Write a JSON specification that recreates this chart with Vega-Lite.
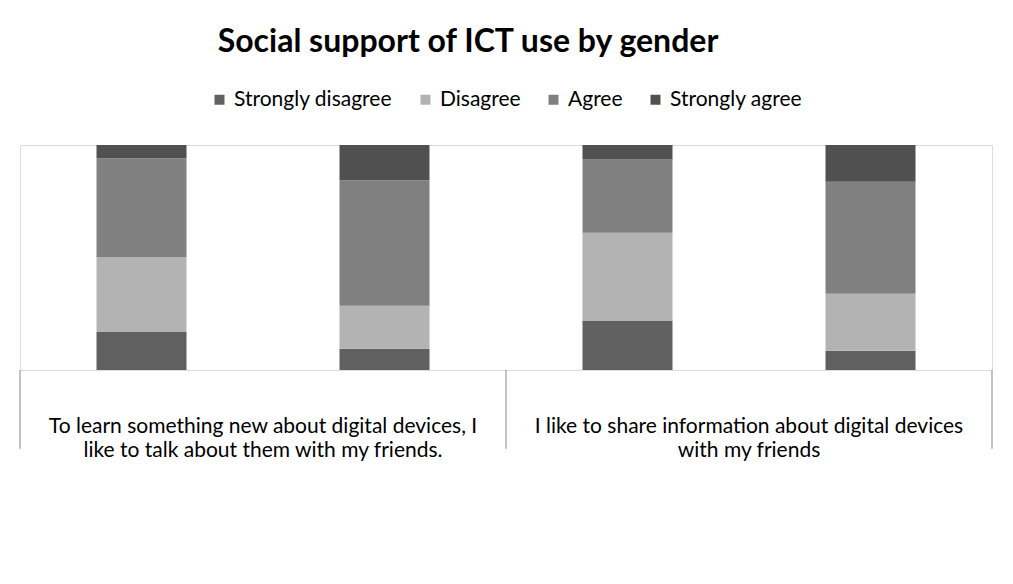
{
  "$schema": "https://vega.github.io/schema/vega-lite/v6.json",
  "width": 1013,
  "height": 584,
  "autosize": {"type": "fit", "contains": "padding"},
  "padding": {"left": 19, "top": 26, "right": 20, "bottom": 9},
  "title": {
    "text": "Social support of ICT use by gender",
    "fontSize": 32,
    "fontWeight": "bold",
    "font": "Lato",
    "color": "#000000",
    "dx": -38,
    "offset": 30
  },
  "datasets": {
    "main": [
      {"key": "Q1 Female", "response": "Strongly disagree", "rank": 1, "value": 0.169},
      {"key": "Q1 Female", "response": "Disagree", "rank": 2, "value": 0.333},
      {"key": "Q1 Female", "response": "Agree", "rank": 3, "value": 0.439},
      {"key": "Q1 Female", "response": "Strongly agree", "rank": 4, "value": 0.059},
      {"key": "Q1 Male", "response": "Strongly disagree", "rank": 1, "value": 0.095},
      {"key": "Q1 Male", "response": "Disagree", "rank": 2, "value": 0.191},
      {"key": "Q1 Male", "response": "Agree", "rank": 3, "value": 0.557},
      {"key": "Q1 Male", "response": "Strongly agree", "rank": 4, "value": 0.157},
      {"key": "Q2 Female", "response": "Strongly disagree", "rank": 1, "value": 0.220},
      {"key": "Q2 Female", "response": "Disagree", "rank": 2, "value": 0.390},
      {"key": "Q2 Female", "response": "Agree", "rank": 3, "value": 0.326},
      {"key": "Q2 Female", "response": "Strongly agree", "rank": 4, "value": 0.064},
      {"key": "Q2 Male", "response": "Strongly disagree", "rank": 1, "value": 0.086},
      {"key": "Q2 Male", "response": "Disagree", "rank": 2, "value": 0.253},
      {"key": "Q2 Male", "response": "Agree", "rank": 3, "value": 0.498},
      {"key": "Q2 Male", "response": "Strongly agree", "rank": 4, "value": 0.163}
    ],
    "groups": [
      {"key": "Q1 Female", "label": "To learn something new about digital devices, I|like to talk about them with my friends."},
      {"key": "Q2 Female", "label": "I like to share information about digital devices|with my friends"}
    ],
    "ends": [
      {"key": "Q2 Male"}
    ]
  },
  "layer": [
    {
      "data": {"name": "main"},
      "mark": {"type": "bar", "size": 90},
      "encoding": {
        "x": {
          "field": "key",
          "type": "nominal",
          "scale": {"domain": ["Q1 Female", "Q1 Male", "Q2 Female", "Q2 Male"], "paddingInner": 0, "paddingOuter": 0},
          "axis": {
            "title": null,
            "labelAngle": 0,
            "labelExpr": "indexof(datum.value, 'Female') >= 0 ? 'Female' : 'Male'",
            "tickBand": "extent",
            "tickSize": 42,
            "labelPadding": -25,
            "labelFontSize": 21,
            "labelFont": "Lato",
            "labelColor": "#000000",
            "domainColor": "#868686",
            "tickColor": "#868686"
          }
        },
        "y": {
          "field": "value",
          "type": "quantitative",
          "scale": {"domain": [0, 1]},
          "axis": {
            "title": null,
            "format": ".0%",
            "values": [0, 0.1, 0.2, 0.3, 0.4, 0.5, 0.6, 0.7, 0.8, 0.9, 1],
            "labelFontSize": 21,
            "labelFont": "Lato",
            "labelColor": "#000000",
            "labelPadding": 13,
            "tickSize": 5,
            "tickColor": "#868686",
            "domainColor": "#868686",
            "gridColor": "#868686"
          }
        },
        "color": {
          "field": "response",
          "type": "nominal",
          "scale": {
            "domain": ["Strongly disagree", "Disagree", "Agree", "Strongly agree"],
            "range": ["#606060", "#b3b3b3", "#808080", "#505050"]
          },
          "legend": {
            "title": null,
            "orient": "top",
            "offset": 35,
            "symbolType": "square",
            "symbolSize": 100,
            "labelFontSize": 21,
            "labelFont": "Lato",
            "labelColor": "#000000",
            "columnPadding": 22
          }
        },
        "order": {"field": "rank", "type": "quantitative"}
      }
    },
    {
      "data": {"name": "groups"},
      "mark": {"type": "rule", "color": "#868686"},
      "encoding": {
        "x": {"field": "key", "type": "nominal", "bandPosition": 0, "axis": null},
        "y": {"datum": 0, "type": "quantitative", "scale": {"domain": [0, 1]}, "axis": null},
        "y2": {"datum": -0.35}
      }
    },
    {
      "data": {"name": "ends"},
      "mark": {"type": "rule", "color": "#868686"},
      "encoding": {
        "x": {"field": "key", "type": "nominal", "bandPosition": 1, "axis": null},
        "y": {"datum": 0, "type": "quantitative", "scale": {"domain": [0, 1]}, "axis": null},
        "y2": {"datum": -0.35}
      }
    },
    {
      "data": {"name": "groups"},
      "mark": {
        "type": "text",
        "lineBreak": "|",
        "lineHeight": 24,
        "fontSize": 21,
        "font": "Lato",
        "color": "#000000",
        "align": "center",
        "baseline": "middle"
      },
      "encoding": {
        "x": {"field": "key", "type": "nominal", "bandPosition": 1, "axis": null},
        "y": {"datum": -0.254, "type": "quantitative", "scale": {"domain": [0, 1]}, "axis": null},
        "text": {"field": "label"}
      }
    }
  ],
  "config": {"legend": {"layout": {"top": {"anchor": "middle"}}}}
}
